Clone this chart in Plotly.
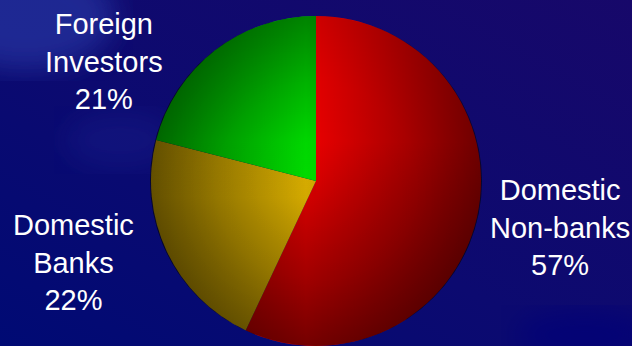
import base64
import plotly.graph_objects as go

# Holdings of government debt, share by investor group
labels = ["Domestic Non-banks", "Domestic Banks", "Foreign Investors"]
values = [57, 22, 21]
label_lines = [["Domestic", "Non-banks"], ["Domestic", "Banks"], ["Foreign", "Investors"]]
colors = ["#f00000", "#f2c200", "#00f800"]

W, H = 632, 346
PIE_DOMAIN_X = [150 / W, 482 / W]
PIE_DOMAIN_Y = [0.0, 330 / H]

# label block centres (paper coordinates)
label_pos = [(0.886, 0.343), (0.116, 0.242), (0.165, 0.823)]


def svg_uri(svg):
    return "data:image/svg+xml;base64," + base64.b64encode(svg.encode()).decode()


background_svg = f"""<svg xmlns='http://www.w3.org/2000/svg' width='{W}' height='{H}' viewBox='0 0 {W} {H}'>
<defs>
 <linearGradient id='bg' x1='0' y1='1' x2='1' y2='0'>
  <stop offset='0' stop-color='#000a74'/>
  <stop offset='0.45' stop-color='#0c0a70'/>
  <stop offset='1' stop-color='#17086a'/>
 </linearGradient>
 <filter id='soft'><feGaussianBlur stdDeviation='14'/></filter>
</defs>
<rect width='{W}' height='{H}' fill='url(#bg)'/>
<ellipse cx='25' cy='15' rx='90' ry='55' fill='#2636a2' opacity='0.7' filter='url(#soft)'/>
<ellipse cx='120' cy='140' rx='55' ry='28' fill='#1a2090' opacity='0.35' filter='url(#soft)'/>
<ellipse cx='585' cy='335' rx='70' ry='25' fill='#000678' opacity='0.7' filter='url(#soft)'/>
</svg>"""

# lighting overlay for the pie disc: darker towards the sides, the lower rim
# and the upper-left edge
shade_svg = """<svg xmlns='http://www.w3.org/2000/svg' width='330' height='330' viewBox='0 0 330 330'>
<defs>
 <clipPath id='disc'><circle cx='165' cy='165' r='165'/></clipPath>
 <linearGradient id='h' x1='0' y1='0' x2='1' y2='0'>
  <stop offset='0' stop-color='#000' stop-opacity='0.48'/>
  <stop offset='0.47' stop-color='#000' stop-opacity='0'/>
  <stop offset='1' stop-color='#000' stop-opacity='0.48'/>
 </linearGradient>
 <linearGradient id='low' x1='0' y1='0' x2='0' y2='1'>
  <stop offset='0.38' stop-color='#000' stop-opacity='0'/>
  <stop offset='1' stop-color='#000' stop-opacity='0.45'/>
 </linearGradient>
 <linearGradient id='top' x1='0' y1='0' x2='0' y2='1'>
  <stop offset='0' stop-color='#000' stop-opacity='0.4'/>
  <stop offset='0.55' stop-color='#000' stop-opacity='0'/>
 </linearGradient>
 <radialGradient id='r' cx='0.5' cy='0.5' r='0.5'>
  <stop offset='0' stop-color='#000' stop-opacity='0'/>
  <stop offset='0.6' stop-color='#000' stop-opacity='0.04'/>
  <stop offset='1' stop-color='#000' stop-opacity='0.12'/>
 </radialGradient>
</defs>
<g clip-path='url(#disc)'>
 <rect width='330' height='330' fill='url(#h)'/>
 <rect width='330' height='330' fill='url(#low)'/>
 <rect width='165' height='330' fill='url(#top)'/>
 <rect width='330' height='330' fill='url(#r)'/>
</g>
</svg>"""

fig = go.Figure(
    go.Pie(
        labels=labels,
        values=values,
        sort=False,
        direction="clockwise",
        rotation=0,
        marker=dict(colors=colors, line=dict(width=0)),
        textinfo="none",
        hoverinfo="skip",
        showlegend=False,
        domain=dict(x=PIE_DOMAIN_X, y=PIE_DOMAIN_Y),
    )
)

annotations = []
for lines, v, (ax, ay) in zip(label_lines, values, label_pos):
    annotations.append(
        dict(
            text="<br>".join(lines + [f"{v}%"]),
            x=ax,
            y=ay,
            xref="paper",
            yref="paper",
            xanchor="center",
            yanchor="middle",
            showarrow=False,
            align="center",
            font=dict(family="Arial, Liberation Sans, sans-serif", size=29, color="#ffffff"),
        )
    )

fig.update_layout(
    width=W,
    height=H,
    margin=dict(l=0, r=0, t=0, b=0),
    paper_bgcolor="#0c0a70",
    plot_bgcolor="#0c0a70",
    annotations=annotations,
    images=[
        dict(
            source=svg_uri(background_svg),
            xref="paper", yref="paper", x=0, y=1, sizex=1, sizey=1,
            xanchor="left", yanchor="top", sizing="stretch", layer="below",
        ),
        dict(
            source=svg_uri(shade_svg),
            xref="paper", yref="paper",
            x=PIE_DOMAIN_X[0], y=PIE_DOMAIN_Y[1],
            sizex=PIE_DOMAIN_X[1] - PIE_DOMAIN_X[0],
            sizey=PIE_DOMAIN_Y[1] - PIE_DOMAIN_Y[0],
            xanchor="left", yanchor="top", sizing="stretch", layer="above",
        ),
    ],
)

fig.write_html("out.html", config={"displayModeBar": False})
